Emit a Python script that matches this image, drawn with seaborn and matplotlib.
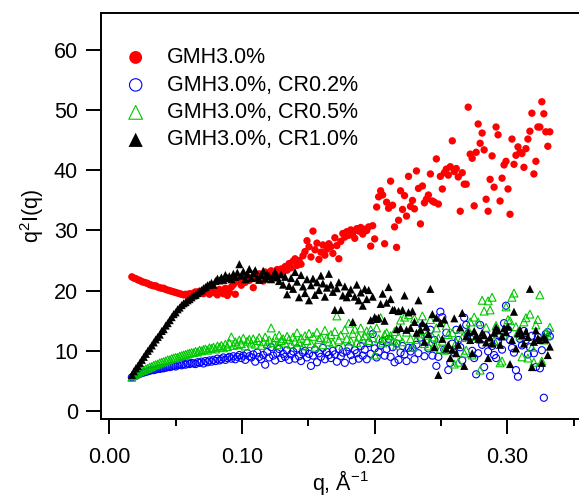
import matplotlib
matplotlib.use("Agg")
import matplotlib.pyplot as plt
import seaborn as sns
from matplotlib.ticker import MultipleLocator, FormatStrFormatter

# scattering vector, 1/A (shared by all four samples)
q = [
    0.0170, 0.0185, 0.0200, 0.0215, 0.0230, 0.0245, 0.0260, 0.0275, 0.0290, 0.0305,
    0.0320, 0.0335, 0.0350, 0.0365, 0.0380, 0.0395, 0.0410, 0.0425, 0.0440, 0.0455,
    0.0470, 0.0485, 0.0500, 0.0515, 0.0530, 0.0545, 0.0560, 0.0575, 0.0590, 0.0605,
    0.0620, 0.0635, 0.0650, 0.0665, 0.0680, 0.0695, 0.0710, 0.0725, 0.0740, 0.0755,
    0.0770, 0.0785, 0.0800, 0.0815, 0.0830, 0.0845, 0.0860, 0.0875, 0.0890, 0.0905,
    0.0920, 0.0935, 0.0950, 0.0965, 0.0980, 0.0995, 0.1010, 0.1025, 0.1040, 0.1055,
    0.1070, 0.1085, 0.1100, 0.1115, 0.1130, 0.1145, 0.1160, 0.1175, 0.1190, 0.1205,
    0.1220, 0.1235, 0.1250, 0.1265, 0.1280, 0.1295, 0.1310, 0.1325, 0.1340, 0.1355,
    0.1370, 0.1385, 0.1400, 0.1415, 0.1430, 0.1445, 0.1460, 0.1475, 0.1490, 0.1505,
    0.1520, 0.1535, 0.1550, 0.1565, 0.1580, 0.1595, 0.1610, 0.1625, 0.1640, 0.1655,
    0.1670, 0.1685, 0.1700, 0.1715, 0.1730, 0.1745, 0.1760, 0.1775, 0.1790, 0.1805,
    0.1820, 0.1835, 0.1850, 0.1865, 0.1880, 0.1895, 0.1910, 0.1925, 0.1940, 0.1955,
    0.1970, 0.1985, 0.2000, 0.2015, 0.2030, 0.2045, 0.2060, 0.2075, 0.2090, 0.2105,
    0.2120, 0.2135, 0.2150, 0.2165, 0.2180, 0.2195, 0.2210, 0.2225, 0.2240, 0.2255,
    0.2270, 0.2285, 0.2300, 0.2315, 0.2330, 0.2345, 0.2360, 0.2375, 0.2390, 0.2405,
    0.2420, 0.2435, 0.2450, 0.2465, 0.2480, 0.2495, 0.2510, 0.2525, 0.2540, 0.2555,
    0.2570, 0.2585, 0.2600, 0.2615, 0.2630, 0.2645, 0.2660, 0.2675, 0.2690, 0.2705,
    0.2720, 0.2735, 0.2750, 0.2765, 0.2780, 0.2795, 0.2810, 0.2825, 0.2840, 0.2855,
    0.2870, 0.2885, 0.2900, 0.2915, 0.2930, 0.2945, 0.2960, 0.2975, 0.2990, 0.3005,
    0.3020, 0.3035, 0.3050, 0.3065, 0.3080, 0.3095, 0.3110, 0.3125, 0.3140, 0.3155,
    0.3170, 0.3185, 0.3200, 0.3215, 0.3230, 0.3245, 0.3260, 0.3275, 0.3290, 0.3305,
    0.3320,
]

# q^2 I(q) for each sample
gmh30 = [
    22.3, 22.1, 22.0, 21.8, 21.7, 21.5, 21.4, 21.3, 21.2, 21.0,
    20.9, 20.8, 20.8, 20.6, 20.5, 20.4, 20.4, 20.2, 20.1, 20.0,
    19.9, 19.8, 19.7, 19.6, 19.5, 19.4, 19.3, 19.4, 19.2, 19.5,
    19.3, 19.6, 19.8, 19.4, 19.9, 19.6, 19.5, 20.0, 19.7, 19.4,
    19.8, 20.1, 19.6, 19.3, 20.2, 19.9, 19.5, 20.4, 19.2, 19.7,
    20.6, 21.0, 19.4, 21.5, 21.8, 20.9, 22.1, 21.4, 22.4, 21.7,
    22.0, 20.5, 22.6, 21.9, 22.8, 22.3, 21.6, 23.1, 22.5, 22.9,
    23.3, 22.6, 22.2, 23.5, 22.9, 23.6, 23.2, 24.0, 23.4, 24.5,
    23.8, 24.9, 25.3, 24.2, 25.0, 24.4, 25.8, 26.5, 28.3, 27.3,
    25.6, 29.9, 26.8, 27.9, 25.2, 26.4, 27.6, 25.9, 26.9, 27.8,
    27.3, 26.2, 28.8, 27.5, 25.3, 28.2, 29.5, 28.9, 29.8, 29.2,
    30.1, 29.6, 28.7, 30.3, 29.9, 30.5, 29.4, 30.2, 30.0, 30.6,
    27.4, 30.8, 28.6, 33.9, 35.6, 36.6, 35.9, 27.8, 34.7, 33.7,
    38.2, 34.2, 30.6, 27.2, 31.7, 36.6, 33.5, 35.8, 32.4, 39.0,
    34.0, 35.0, 33.6, 39.9, 37.0, 31.1, 37.4, 34.6, 35.2, 35.9,
    39.4, 34.9, 34.7, 41.9, 34.4, 39.0, 36.9, 39.6, 40.2, 39.2,
    40.6, 44.9, 39.8, 40.3, 38.9, 33.2, 39.6, 37.7, 37.7, 50.5,
    42.7, 42.0, 34.1, 43.0, 47.7, 44.5, 46.2, 43.4, 35.2, 33.2,
    38.5, 42.4, 37.2, 47.2, 45.9, 34.9, 38.7, 40.9, 41.5, 36.9,
    32.7, 45.2, 41.0, 42.5, 43.9, 43.0, 42.8, 40.5, 43.6, 45.2,
    46.5, 49.5, 39.4, 41.5, 47.2, 47.2, 51.4, 49.4, 46.4, 44.0,
    46.4,
]

cr02 = [
    5.6, 5.8, 5.9, 6.1, 6.2, 6.3, 6.4, 6.5, 6.6, 6.7,
    6.8, 6.8, 6.9, 7.0, 7.0, 7.1, 7.1, 7.2, 7.3, 7.3,
    7.4, 7.5, 7.4, 7.6, 7.7, 7.6, 7.8, 7.7, 7.9, 7.8,
    8.0, 7.9, 7.8, 8.1, 8.0, 8.2, 7.9, 8.3, 8.1, 8.4,
    8.2, 8.5, 8.3, 8.7, 8.4, 8.6, 8.9, 8.5, 8.8, 9.0,
    8.7, 9.1, 8.6, 9.0, 9.3, 8.8, 9.2, 8.5, 9.6, 9.1,
    8.9, 9.4, 8.2, 9.7, 9.0, 8.6, 9.3, 7.7, 9.8, 8.9,
    10.6, 9.2, 8.4, 9.6, 10.3, 8.8, 9.5, 9.0, 10.1, 8.5,
    9.4, 9.9, 8.7, 10.4, 9.1, 8.3, 9.7, 10.0, 8.9, 9.5,
    7.5, 9.2, 10.2, 8.1, 9.6, 9.0, 10.5, 8.6, 9.8, 9.3,
    8.8, 10.0, 9.4, 8.2, 10.3, 9.1, 9.7, 8.0, 9.9, 10.6,
    9.3, 8.4, 10.1, 9.6, 8.7, 10.8, 9.2, 10.2, 8.6, 11.3,
    9.5, 12.8, 10.4, 8.9, 9.8, 10.9, 11.6, 9.2, 10.3, 12.0,
    9.0, 10.6, 8.1, 11.2, 8.5, 9.7, 10.8, 9.4, 8.3, 10.5,
    9.9, 10.5, 8.6, 11.0, 9.6, 12.2, 14.1, 9.1, 11.8, 10.4,
    13.5, 9.2, 11.8, 7.5, 9.0, 16.5, 15.6, 10.2, 13.0, 6.8,
    8.0, 11.2, 9.7, 13.5, 11.8, 10.6, 8.4, 15.5, 14.3, 12.9,
    12.1, 10.0, 8.8, 6.1, 9.6, 14.3, 11.0, 7.3, 12.6, 9.9,
    5.8, 10.8, 9.3, 8.8, 11.5, 12.4, 10.2, 14.6, 17.5, 13.5,
    11.8, 10.5, 9.7, 6.8, 5.7, 12.0, 10.9, 13.3, 11.8, 9.4,
    10.6, 12.5, 9.6, 7.3, 12.3, 7.1, 10.1, 2.2, 12.8, 13.1,
    12.4,
]

cr05 = [
    5.6, 5.9, 6.1, 6.3, 6.5, 6.7, 6.8, 7.0, 7.1, 7.3,
    7.4, 7.6, 7.7, 7.8, 8.0, 8.1, 8.2, 8.3, 8.5, 8.5,
    8.7, 8.8, 8.9, 8.9, 9.1, 9.2, 9.3, 9.4, 9.5, 9.6,
    9.7, 9.7, 9.9, 9.8, 10.1, 10.0, 10.2, 10.3, 10.1, 10.5,
    10.4, 10.6, 10.3, 10.8, 10.6, 10.9, 10.5, 11.1, 10.7, 11.3,
    12.3, 10.9, 11.5, 11.0, 11.8, 11.2, 12.1, 10.8, 11.6, 11.9,
    11.3, 12.0, 11.1, 11.7, 12.2, 10.9, 11.5, 12.3, 11.2, 11.8,
    13.8, 11.4, 12.2, 11.0, 12.6, 11.7, 12.0, 11.3, 12.4, 11.9,
    11.1, 12.3, 11.6, 13.0, 11.4, 12.1, 10.8, 12.5, 11.7, 12.9,
    11.2, 12.4, 10.6, 13.1, 11.9, 12.2, 11.0, 13.4, 12.1, 11.5,
    12.7, 11.3, 13.2, 15.8, 11.8, 12.6, 10.9, 13.5, 12.0, 14.6,
    11.6, 12.9, 13.6, 11.4, 12.3, 13.8, 11.9, 12.5, 13.3, 11.7,
    13.5, 12.2, 9.3, 13.8, 12.0, 15.5, 11.3, 12.7, 13.0, 11.8,
    12.5, 11.6, 13.2, 10.9, 12.4, 15.1, 11.5, 15.6, 13.1, 16.0,
    12.0, 10.6, 15.4, 11.9, 12.8, 13.4, 15.8, 11.2, 12.6, 10.8,
    15.2, 12.3, 11.0, 13.8, 12.1, 10.3, 11.6, 10.1, 14.2, 12.7,
    10.2, 13.0, 7.8, 11.4, 8.1, 13.6, 12.2, 9.6, 10.1, 13.5,
    14.8, 9.3, 15.6, 12.4, 14.8, 6.8, 18.4, 16.6, 13.9, 18.3,
    16.8, 18.9, 11.7, 14.2, 12.9, 8.0, 8.3, 12.6, 17.3, 15.2,
    15.0, 18.9, 19.6, 14.0, 13.1, 12.5, 9.0, 14.8, 15.5, 8.8,
    16.1, 10.6, 8.1, 14.3, 15.2, 19.3, 8.3, 11.8, 13.0, 12.6,
    13.9,
]

cr10 = [
    6.0, 6.6, 7.1, 7.5, 8.0, 8.5, 9.0, 9.5, 10.0, 10.4,
    10.9, 11.4, 11.9, 12.3, 12.7, 13.3, 13.6, 14.2, 14.6, 15.1,
    15.6, 16.1, 16.4, 16.9, 17.2, 17.6, 17.9, 18.1, 18.4, 18.6,
    18.9, 19.2, 19.3, 19.6, 19.9, 20.1, 20.4, 20.6, 20.9, 21.0,
    21.3, 21.0, 21.6, 22.0, 21.7, 22.2, 21.8, 22.6, 22.1, 22.4,
    21.9, 22.8, 22.3, 23.0, 24.4, 22.5, 23.2, 21.9, 22.7, 23.6,
    22.1, 22.9, 23.4, 22.2, 21.8, 22.6, 23.3, 22.0, 22.8, 22.4,
    21.9, 22.5, 23.1, 22.2, 21.6, 22.7, 21.0, 22.3, 19.4, 20.8,
    22.1, 20.3, 23.1, 21.5, 18.9, 22.6, 20.7, 19.6, 21.9, 18.4,
    20.9, 22.0, 19.3, 21.4, 20.1, 22.5, 21.2, 19.0, 20.5, 22.8,
    21.0, 19.8, 16.8, 20.4, 21.4, 16.8, 19.2, 20.7, 18.9, 19.6,
    20.2, 14.8, 19.0, 21.0, 18.4, 19.7, 17.5, 20.3, 18.6, 20.1,
    15.1, 19.0, 15.6, 15.3, 15.5, 17.8, 19.5, 15.0, 18.0, 20.6,
    18.6, 16.8, 16.8, 13.6, 16.6, 13.8, 16.8, 19.2, 13.5, 16.4,
    13.8, 16.6, 14.8, 13.0, 18.4, 13.5, 14.6, 11.5, 14.0, 12.8,
    20.3, 16.1, 10.6, 15.5, 6.0, 14.6, 12.0, 15.2, 10.4, 11.0,
    8.8, 10.2, 15.4, 9.6, 11.0, 13.9, 16.3, 7.5, 12.4, 13.1,
    11.8, 9.6, 13.3, 12.5, 12.0, 11.9, 13.0, 12.6, 11.4, 8.8,
    12.2, 11.2, 13.0, 13.9, 13.4, 11.0, 12.4, 13.8, 13.1, 14.0,
    7.8, 11.8, 16.5, 10.4, 12.9, 13.5, 12.6, 11.2, 13.2, 12.3,
    20.3, 7.3, 11.5, 13.4, 12.1, 11.8, 8.0, 12.3, 11.9, 9.3,
    10.7,
]

sns.set_style("ticks", {"axes.edgecolor": "black", "xtick.color": "black",
                        "ytick.color": "black", "text.color": "black",
                        "axes.labelcolor": "black"})
plt.rcParams["font.family"] = ["Liberation Sans", "DejaVu Sans"]
plt.rcParams["mathtext.default"] = "regular"

fig = plt.figure(figsize=(5.79, 4.97), dpi=100)
ax = fig.add_axes([101 / 579, 1 - 419 / 497, 478 / 579, 406 / 497])

sns.scatterplot(x=q, y=gmh30, ax=ax, marker="o", s=28, color="#ff0000",
                edgecolor="none", linewidth=0, label="GMH3.0%")
sns.scatterplot(x=q, y=cr02, ax=ax, marker="o", s=26, color="#0000ff",
                facecolor="none", edgecolor="#0000ff", linewidth=0.8,
                label="GMH3.0%, CR0.2%")
sns.scatterplot(x=q, y=cr05, ax=ax, marker="^", s=32, color="#00c800",
                facecolor="none", edgecolor="#00c800", linewidth=0.8,
                label="GMH3.0%, CR0.5%")
sns.scatterplot(x=q, y=cr10, ax=ax, marker="^", s=34, color="black",
                edgecolor="none", linewidth=0, label="GMH3.0%, CR1.0%")

ax.set_xlim(-0.00625, 0.354)
ax.set_ylim(-1.33, 66.15)

ax.xaxis.set_major_locator(MultipleLocator(0.1))
ax.xaxis.set_minor_locator(MultipleLocator(0.05))
ax.xaxis.set_major_formatter(FormatStrFormatter("%.2f"))
ax.yaxis.set_major_locator(MultipleLocator(10))

ax.tick_params(axis="both", which="major", direction="out", length=10.5,
               width=1.4, labelsize=15.5)
ax.tick_params(axis="x", which="minor", direction="out", length=5, width=1.4)
ax.tick_params(axis="x", which="major", pad=10)
ax.tick_params(axis="y", which="major", pad=6)

for side in ["left", "bottom", "top"]:
    ax.spines[side].set_linewidth(1.4)
    ax.spines[side].set_color("black")
ax.spines["right"].set_visible(False)

ax.set_xlabel("q, Å$^{-1}$", fontsize=15.5, labelpad=0)
ax.set_ylabel("q$^{2}$I(q)", fontsize=15.5, labelpad=6)

ax.legend(loc="upper left", bbox_to_anchor=(0.05, 0.916), frameon=False,
          fontsize=15.5, markerscale=1.75, handlelength=1.0, handletextpad=0.95,
          labelspacing=0.3, borderpad=0, borderaxespad=0)

plt.savefig("out.png", dpi=100)
